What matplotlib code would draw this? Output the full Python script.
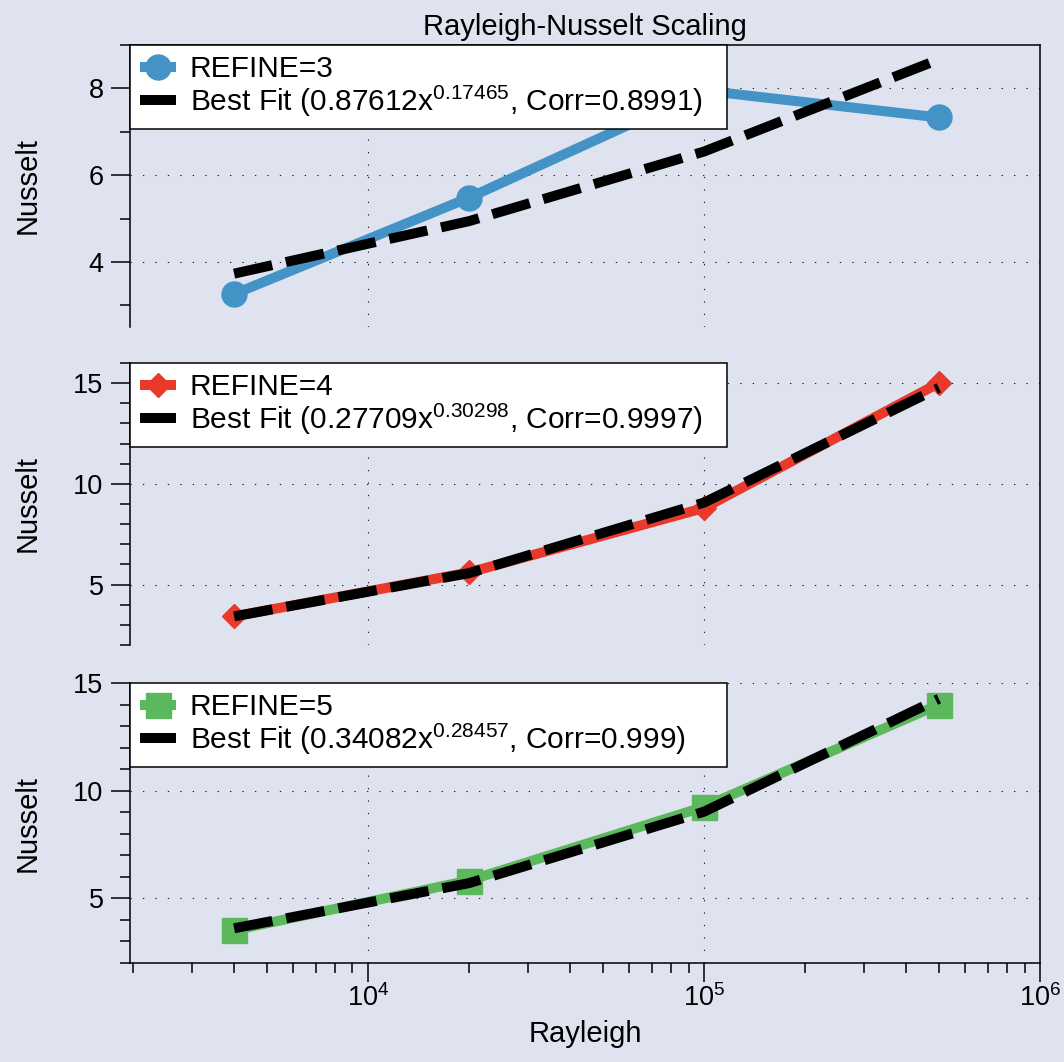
import matplotlib
matplotlib.use("Agg")
import matplotlib.pyplot as plt
import numpy as np
from matplotlib.lines import Line2D
from matplotlib.ticker import MultipleLocator, LogLocator, NullFormatter

plt.rcParams['font.family'] = ['Liberation Sans', 'DejaVu Sans']
plt.rcParams['mathtext.fontset'] = 'custom'
plt.rcParams['mathtext.rm'] = 'Liberation Sans'
plt.rcParams['mathtext.it'] = 'Liberation Sans:italic'
plt.rcParams['mathtext.bf'] = 'Liberation Sans:bold'
plt.rcParams['mathtext.default'] = 'regular'

# ---- data ----
rayleigh = [4e3, 2e4, 1e5, 5e5]
nusselt_refine3 = [3.26, 5.48, 7.95, 7.33]
nusselt_refine4 = [3.42, 5.60, 8.80, 15.0]
nusselt_refine5 = [3.52, 5.83, 9.25, 14.0]
series_labels = ['REFINE=3', 'REFINE=4', 'REFINE=5']
fit_a = [0.87612, 0.27709, 0.34082]
fit_b = [0.17465, 0.30298, 0.28457]
fit_corr = ['0.8991', '0.9997', '0.999']

series = [nusselt_refine3, nusselt_refine4, nusselt_refine5]
colors = ['#4393c6', '#e8392b', '#5cb85c']
markers = ['o', 'D', 's']
msizes = [18, 12.5, 18]
ylims = [(2.5, 9.0), (2.0, 16.0), (2.0, 15.0)]
ymajor = [2, 5, 5]

bg = '#dfe3ef'
fig = plt.figure(figsize=(10.64, 10.62), dpi=100, facecolor=bg)

L, R = 130/1064, 1040/1064
rows = [(45, 327), (363, 645), (683, 963)]
axes = []
for i, (t, b) in enumerate(rows):
    ax = fig.add_axes([L, 1 - b/1062, R - L, (b - t)/1062], facecolor=bg)
    axes.append(ax)

legend_w = (727 - 130) / (1040 - 130)

x = np.array(rayleigh)
for i, ax in enumerate(axes):
    y = np.array(series[i])
    ax.set_xscale('log')
    ax.set_xlim(1960, 1e6)
    ax.set_ylim(*ylims[i])
    ax.set_axisbelow(True)
    ax.plot(x, y, color=colors[i], lw=7.2, marker=markers[i], ms=msizes[i],
            label=series_labels[i], solid_capstyle='butt', zorder=3)
    yfit = fit_a[i] * x ** fit_b[i]
    ax.plot(x, yfit, color='black', lw=7.2, ls=(0, (3.9, 1.4)),
            label=f'Best Fit ({fit_a[i]:.5f}x$^{{{fit_b[i]:.5f}}}$, Corr={fit_corr[i]})',
            zorder=4)
    ax.yaxis.set_major_locator(MultipleLocator(ymajor[i]))
    ax.yaxis.set_minor_locator(MultipleLocator(1))
    ax.xaxis.set_major_locator(LogLocator(base=10, numticks=10))
    ax.xaxis.set_minor_locator(LogLocator(base=10, subs=np.arange(2, 10), numticks=20))
    ax.xaxis.set_minor_formatter(NullFormatter())
    ax.grid(True, which='major', color='#222222', lw=0.8, ls=(0, (1.2, 10)))
    for s in ['left', 'right', 'top', 'bottom']:
        ax.spines[s].set_linewidth(1.1)
        ax.spines[s].set_color('black')
    ax.spines['right'].set_visible(False)
    ax.spines['top'].set_visible(i == 0)
    ax.spines['bottom'].set_visible(i == 2)
    ax.tick_params(axis='y', which='major', direction='out', length=14, width=1.1,
                   labelsize=19.5, pad=5)
    ax.tick_params(axis='y', which='minor', direction='out', length=7, width=1.1)
    ax.tick_params(axis='y', which='both', right=False)
    if i < 2:
        ax.tick_params(axis='x', which='both', bottom=False, top=False, labelbottom=False)
    else:
        ax.tick_params(axis='x', which='major', direction='out', length=14, width=1.1,
                       labelsize=19.5, pad=1, top=False)
        ax.tick_params(axis='x', which='minor', direction='out', length=7, width=1.1, top=False)
        ax.set_xlabel('Rayleigh', fontsize=21, labelpad=6)
    ax.set_ylabel('Nusselt', fontsize=21)
    ax.yaxis.set_label_coords(-0.097, 0.5)
    leg = ax.legend(loc='upper left', bbox_to_anchor=(0, 1, legend_w, 0), mode='expand',
                    fontsize=21.5, frameon=True, fancybox=False,
                    framealpha=1, edgecolor='black', borderaxespad=0,
                    borderpad=0.35, labelspacing=0.0, handlelength=1.2,
                    handletextpad=0.45)
    leg.get_frame().set_linewidth(1.1)
    leg.set_zorder(10)

axes[0].set_title('Rayleigh-Nusselt Scaling', fontsize=21, pad=7)

fig.add_artist(Line2D([R, R], [1 - 963/1062, 1 - 45/1062], transform=fig.transFigure,
                      color='black', lw=1.1))

fig.savefig('out.png', dpi=100, facecolor=bg)
